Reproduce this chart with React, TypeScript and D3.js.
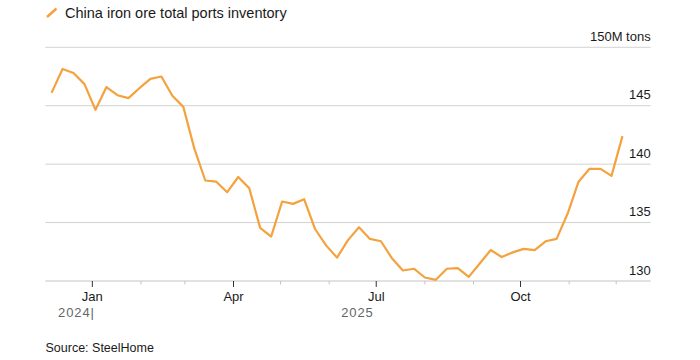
import React from "react";
import * as d3 from "d3";

// weekly readings, million tons
const startDate = new Date(2024, 11, 6);
const inventory = [
  146.1, 148.15, 147.8, 146.85, 144.65, 146.6, 145.9, 145.65, 146.5, 147.3,
  147.5, 145.85, 144.9, 141.35, 138.6, 138.5, 137.6, 138.9, 137.95, 134.55,
  133.8, 136.8, 136.6, 137.0, 134.45, 133.05, 132.0, 133.5, 134.6, 133.6,
  133.4, 131.95, 130.9, 131.05, 130.3, 130.1, 131.05, 131.1, 130.35, 131.5,
  132.65, 132.05, 132.45, 132.75, 132.65, 133.4, 133.6, 135.75, 138.5, 139.6,
  139.6, 139.0, 142.4,
];
const yTicks = [130, 135, 140, 145, 150];
const majorMonths = [new Date(2025, 0, 1), new Date(2025, 3, 1), new Date(2025, 6, 1), new Date(2025, 9, 1)];
const yearLabels = [
  { date: new Date(2025, 0, 1), text: "2024|" },
  { date: new Date(2025, 6, 1), text: "2025" },
];
const seriesName = "China iron ore total ports inventory";
const sourceText = "Source: SteelHome";

const data = inventory.map((v, i) => ({ date: d3.timeDay.offset(startDate, i * 7), value: v }));

const W = 700;
const H = 360;
const left = 45.3;
const right = 650.7;
const top = 47.3;
const bottom = 281;
const orange = "#f4a23e";
const font = "'Liberation Sans', Arial, sans-serif";

export default function App() {
  const x = d3.scaleTime()
    .domain([new Date(2024, 11, 2), new Date(2025, 11, 23)])
    .range([left, right]);
  const y = d3.scaleLinear().domain([130, 150]).range([bottom, top]);

  const line = d3.line<{ date: Date; value: number }>()
    .x(d => x(d.date))
    .y(d => y(d.value));

  const minorMonths = d3.timeMonth
    .range(new Date(2025, 0, 1), new Date(2025, 11, 2))
    .filter(d => d.getMonth() % 3 !== 0);

  return (
    <div style={{ position: "absolute", left: 0, top: 0 }}>
      <svg width={W} height={H} style={{ display: "block", fontFamily: font }}>
        <rect width={W} height={H} fill="#fff" />

        {/* legend */}
        <line x1={47} y1={17} x2={56.5} y2={8.5} stroke={orange} strokeWidth={2.5} />
        <text x={65} y={18} fontSize={14.5} fill="#1a1a1a">{seriesName}</text>

        {/* grid */}
        {yTicks.map(t => (
          <g key={t}>
            <line x1={left} x2={right} y1={y(t)} y2={y(t)} stroke={t === 130 ? "#c4c4c4" : "#d2d2d2"} strokeWidth={1} />
            <text x={right} y={y(t) - 6.5} textAnchor="end" fontSize={13} fill="#1a1a1a">
              {t === 150 ? "150M tons" : t}
            </text>
          </g>
        ))}

        {/* x axis ticks */}
        {minorMonths.map(d => (
          <line key={+d} x1={x(d)} x2={x(d)} y1={bottom} y2={bottom + 3.5} stroke="#c4c4c4" />
        ))}
        {majorMonths.map(d => (
          <g key={+d}>
            <line x1={x(d)} x2={x(d)} y1={bottom} y2={bottom + 6} stroke="#333" />
            <text x={x(d)} y={301} textAnchor="middle" fontSize={13} fill="#1a1a1a">
              {d3.timeFormat("%b")(d)}
            </text>
          </g>
        ))}
        {yearLabels.map(l => (
          <text
            key={l.text}
            x={l.text.endsWith("|") ? x(l.date) + 2.5 : x(l.date) - 2.5}
            y={317}
            textAnchor="end"
            fontSize={13}
            letterSpacing={0.9}
            fill="#666"
          >
            {l.text}
          </text>
        ))}

        {/* series */}
        <path d={line(data) ?? ""} fill="none" stroke={orange} strokeWidth={2.2} strokeLinejoin="round" />

        <text x={45.5} y={352} fontSize={12.5} fill="#1a1a1a">{sourceText}</text>
      </svg>
    </div>
  );
}
